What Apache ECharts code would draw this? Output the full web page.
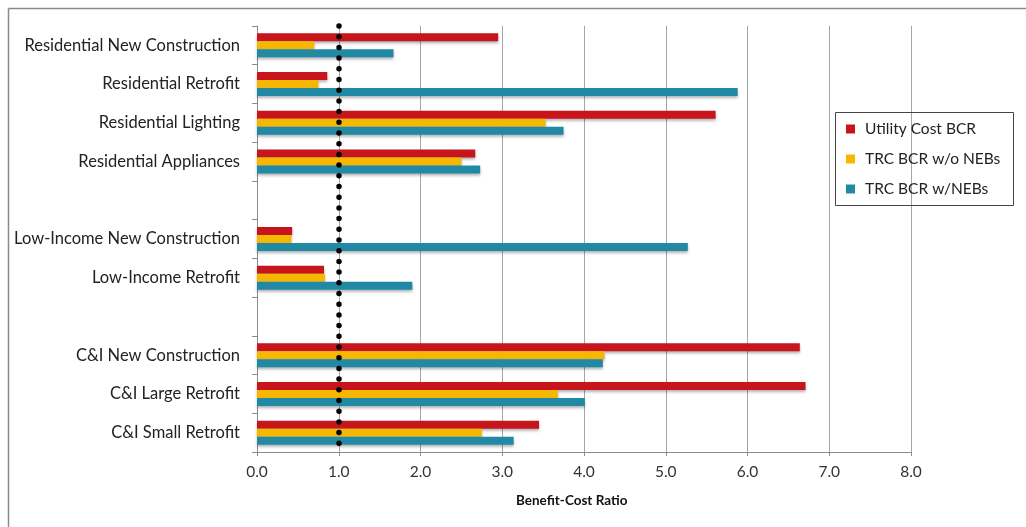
<!DOCTYPE html>
<html>
<head>
<meta charset="utf-8">
<script src="https://cdn.jsdelivr.net/npm/echarts@6/dist/echarts.min.js"></script>
<style>
html,body{margin:0;padding:0;background:#fff;}
#chart{width:1026px;height:527px;}
</style>
</head>
<body>
<div id="chart"></div>
<script>
var categories = ['Residential New Construction','Residential Retrofit','Residential Lighting','Residential Appliances',' ','Low-Income New Construction','Low-Income Retrofit','  ','C&I New Construction','C&I Large Retrofit','C&I Small Retrofit'];
var seriesNames = ['Utility Cost BCR','TRC BCR w/o NEBs','TRC BCR w/NEBs'];
var utilityCost = [2.95, 0.86, 5.61, 2.67, null, 0.43, 0.82, null, 6.64, 6.71, 3.45];
var trcNoNebs   = [0.70, 0.75, 3.53, 2.50, null, 0.42, 0.83, null, 4.25, 3.68, 2.75];
var trcNebs     = [1.67, 5.88, 3.75, 2.73, null, 5.27, 1.90, null, 4.23, 4.01, 3.14];
var xTicks = [0,1,2,3,4,5,6,7,8];
var referenceLine = 1.0;

var colors = ['#c8151b','#f6b700','#2189a3'];
var font = 'Lato, "Open Sans", sans-serif';
var chart = echarts.init(document.getElementById('chart'));

function barSeries(name, data, color, withMark) {
  var s = {
    name: name, type: 'bar', data: data, barWidth: 8, barGap: '0%',
    itemStyle: { color: color, shadowBlur: 3, shadowColor: 'rgba(0,0,0,0.3)', shadowOffsetY: 2 },
    emphasis: { disabled: true }, animation: false
  };
  if (withMark) {
    s.markLine = {
      silent: true, symbol: 'none', label: { show: false },
      lineStyle: { color: '#000', width: 5.5, type: [0, 10.7], cap: 'round', opacity: 1 },
      data: [{ xAxis: referenceLine }], animation: false
    };
  }
  return s;
}

chart.setOption({
  animation: false,
  grid: { left: 257, right: 115, top: 26, bottom: 75, containLabel: false },
  xAxis: {
    type: 'value', min: xTicks[0], max: xTicks[xTicks.length-1], interval: 1,
    axisLine: { show: true, lineStyle: { color: '#8c8c8c', width: 1 } },
    axisTick: { show: true, length: 4, lineStyle: { color: '#8c8c8c' } },
    splitLine: { show: true, lineStyle: { color: '#a6a6a6', width: 1 } },
    axisLabel: { color: '#333', fontSize: 15.5, fontFamily: font, margin: 12,
      formatter: function(v){ return v.toFixed(1); } }
  },
  yAxis: {
    type: 'category', data: categories, inverse: true,
    axisLine: { show: true, lineStyle: { color: '#8c8c8c', width: 1 } },
    axisTick: { show: true, length: 5, lineStyle: { color: '#8c8c8c' } },
    axisLabel: { color: '#222', fontSize: 16.5, fontFamily: font, margin: 17 },
    splitLine: { show: false }
  },
  legend: {
    orient: 'vertical', left: 846, top: 119, padding: 0,
    itemWidth: 9, itemHeight: 9, itemGap: 10, icon: 'rect',
    data: seriesNames,
    textStyle: { color: '#222', fontSize: 15.5, fontFamily: font, lineHeight: 20, padding: [0, 0, 0, 5] },
    selectedMode: false
  },
  graphic: [
    { type: 'line', shape: { x1: 8.5, y1: 8.5, x2: 1026, y2: 8.5 }, style: { stroke: '#8a8a8a', lineWidth: 1.5 } },
    { type: 'line', shape: { x1: 8.5, y1: 8.5, x2: 8.5, y2: 527 }, style: { stroke: '#8a8a8a', lineWidth: 1.5 } },
    { type: 'rect', shape: { x: 835.5, y: 112.5, width: 178, height: 93 }, style: { fill: 'none', stroke: '#444', lineWidth: 1 }, z: 100 },
    { type: 'text', left: 516, top: 494, style: { text: 'Benefit-Cost Ratio', fill: '#111', font: 'bold 13.5px ' + font } }
  ],
  series: [
    barSeries(seriesNames[0], utilityCost, colors[0], true),
    barSeries(seriesNames[1], trcNoNebs, colors[1], false),
    barSeries(seriesNames[2], trcNebs, colors[2], false)
  ]
});
</script>
</body>
</html>
